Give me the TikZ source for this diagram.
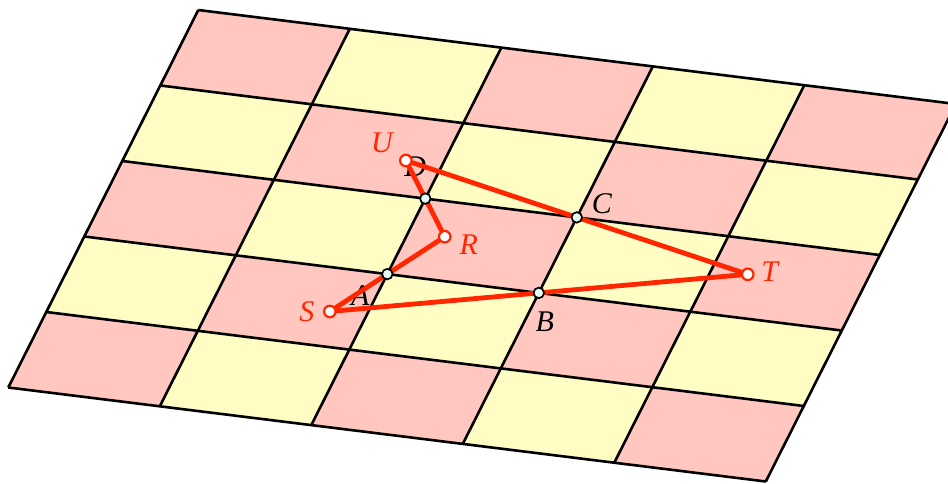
\documentclass[tikz,border=0pt]{standalone}
\usepackage{fontspec}
\setmainfont{Liberation Serif}
\usepackage{tikz}
\usetikzlibrary{calc}

\definecolor{cellpink}{RGB}{255,199,191}
\definecolor{cellyellow}{RGB}{255,253,196}
\definecolor{pathred}{RGB}{255,38,0}
\definecolor{ptfill}{RGB}{232,250,244}

\begin{document}
\begin{tikzpicture}[x={(151.5pt,-18.8pt)}, y={(-38pt,-75.5pt)},
    gridline/.style={line width=2.6pt, line join=round},
    redpath/.style={pathred, line width=4.8pt, line join=round},
    lbl/.style={inner sep=0pt, font=\fontsize{30}{36}\selectfont\itshape},
    bpt/.style={circle, draw=black, line width=1.7pt, fill=ptfill, inner sep=0pt, minimum size=10.5pt},
    rpt/.style={circle, draw=pathred, line width=2.2pt, fill=white, inner sep=0pt, minimum size=11.5pt}]
    \clip (-198.3pt,10pt) rectangle (749.7pt,-473pt);
    % checkerboard
    \foreach \i in {0,...,4}
      \foreach \j in {0,...,4} {
        \pgfmathtruncatemacro{\odd}{mod(\i+\j,2)}
        \ifnum\odd=0 \def\cellcol{cellpink}\else \def\cellcol{cellyellow}\fi
        \fill[\cellcol] (\i,\j) -- ++(1,0) -- ++(0,1) -- ++(-1,0) -- cycle;
      }
    \foreach \k in {0,...,5} {
        \draw[gridline] (\k,0) -- (\k,5);
        \draw[gridline] (0,\k) -- (5,\k);
    }
    % centres of reflection
    \coordinate (A) at (2,3);
    \coordinate (B) at (3,3);
    \coordinate (C) at (3,2);
    \coordinate (D) at (2,2);
    % reflected points
    \coordinate (S) at (1.76,3.555);
    \coordinate (R) at ($(S)!2!(A)$);
    \coordinate (U) at ($(R)!2!(D)$);
    \coordinate (T) at ($(U)!2!(C)$);
    % labels
    \node[lbl] (lA) at ([shift={(-27pt,-21pt)}]A) {A};
    \node[lbl] (lB) at ([shift={(6pt,-29pt)}]B) {B};
    \node[lbl] (lC) at ([shift={(25pt,14pt)}]C) {C};
    \node[lbl] (lD) at ([shift={(-10pt,32pt)}]D) {D};
    \node[lbl, pathred] (lS) at ([shift={(-23pt,0pt)}]S) {S};
    \node[lbl, pathred] (lR) at ([shift={(24pt,-8pt)}]R) {R};
    \node[lbl, pathred] (lU) at ([shift={(-24pt,18pt)}]U) {U};
    \node[lbl, pathred] (lT) at ([shift={(22pt,3pt)}]T) {T};
    % closed path
    \draw[redpath] (S) -- (R) -- (U) -- (T) -- cycle;
    % points
    \foreach \p in {S,R,U,T}
        \node[rpt] (p\p) at (\p) {};
    \foreach \p in {A,B,C,D}
        \node[bpt] (p\p) at (\p) {};
\end{tikzpicture}
\end{document}
